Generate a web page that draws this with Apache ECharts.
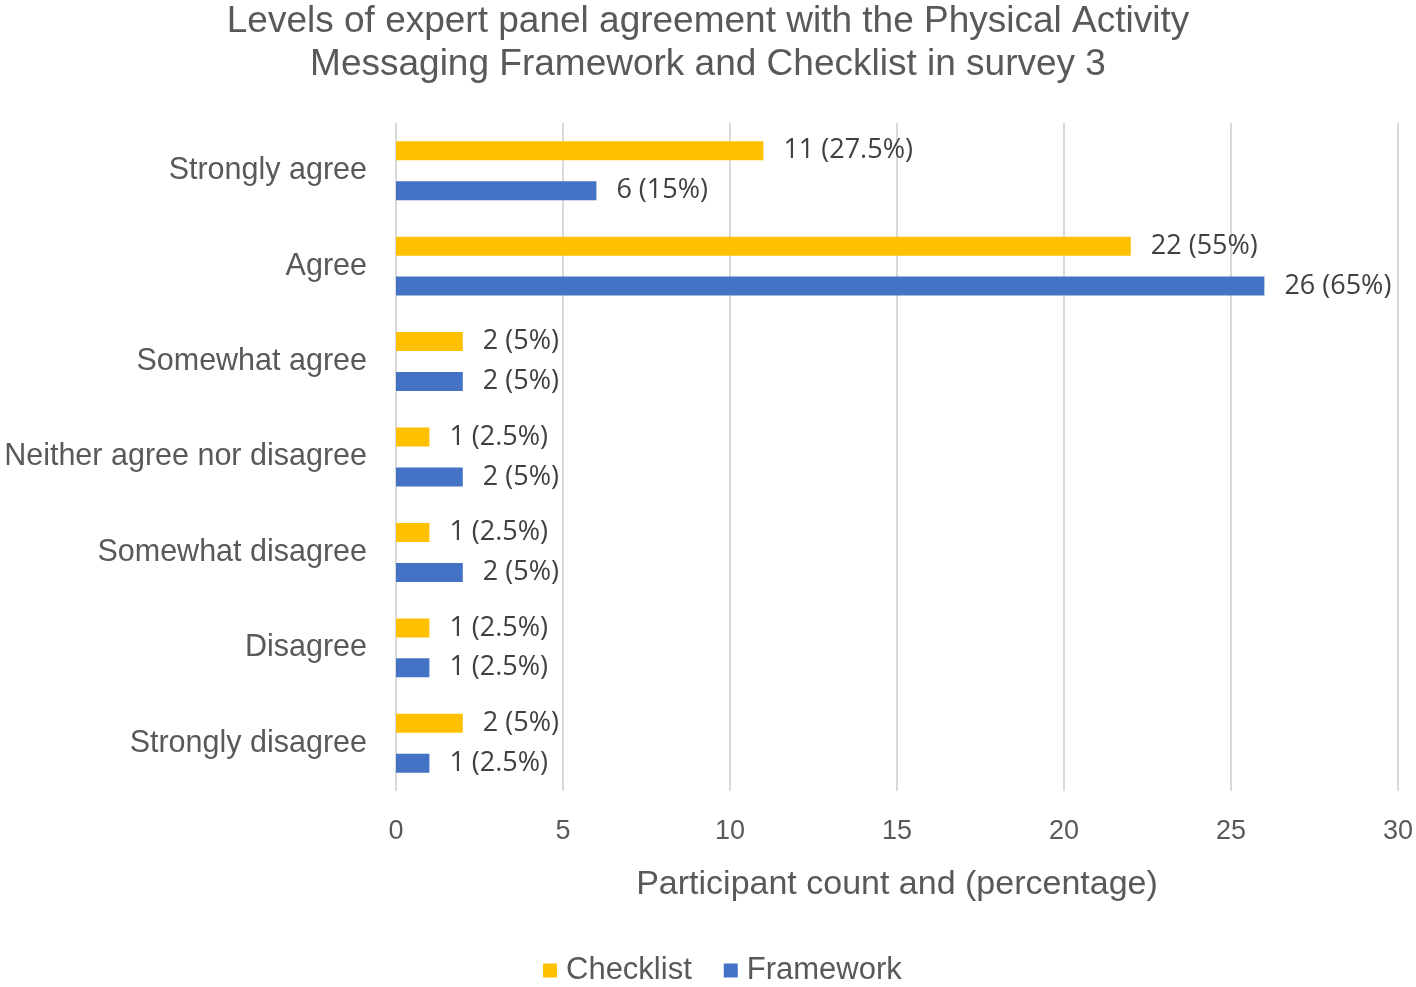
<!DOCTYPE html>
<html><head><meta charset="utf-8">
<script src="https://cdn.jsdelivr.net/npm/echarts@6/dist/echarts.min.js"></script>
<style>html,body{margin:0;padding:0;background:#fff}#c{width:1416px;height:987px}</style>
</head><body><div id="c"></div>
<script>
const categories = ["Strongly agree","Agree","Somewhat agree","Neither agree nor disagree","Somewhat disagree","Disagree","Strongly disagree"];
const checklist = [11,22,2,1,1,1,2];
const checklistPct = ["27.5","55","5","2.5","2.5","2.5","5"];
const framework = [6,26,2,2,2,1,1];
const frameworkPct = ["15","65","5","5","5","2.5","2.5"];
const xTicks = [0,5,10,15,20,25,30];

const chart = echarts.init(document.getElementById('c'), null, {renderer:'canvas'});
const labelStyle = (pcts) => ({
  show:true, position:'right', distance:20,
  fontFamily:'Open Sans', fontSize:27, color:'#404040',
  formatter: p => p.value + ' (' + pcts[p.dataIndex] + '%)'
});
chart.setOption({
  animation:false,
  title:{
    text:'Levels of expert panel agreement with the Physical Activity\nMessaging Framework and Checklist in survey 3',
    left:'center', top:-5,
    textStyle:{fontFamily:'Liberation Sans', fontSize:37, fontWeight:'normal', color:'#595959', lineHeight:43}
  },
  legend:{
    bottom:-4, left:538, itemWidth:14, itemHeight:14, itemGap:32,
    icon:'rect',
    textStyle:{fontFamily:'Liberation Sans', fontSize:31, color:'#595959', padding:[0,0,0,4]},
    data:['Checklist','Framework']
  },
  grid:{left:396, right:18, top:123, bottom:196},
  xAxis:{
    type:'value', min:0, max:30, interval:5,
    axisLine:{show:false}, axisTick:{show:false},
    splitLine:{lineStyle:{color:'#d9d9d9', width:2}},
    axisLabel:{fontFamily:'Liberation Sans', fontSize:27, color:'#595959', margin:27,
      formatter: v => xTicks.includes(v) ? String(v) : ''},
    name:'Participant count and (percentage)', nameLocation:'middle', nameGap:77,
    nameTextStyle:{fontFamily:'Liberation Sans', fontSize:34, color:'#595959'}
  },
  yAxis:{
    type:'category', data:categories, inverse:true,
    axisLine:{show:false}, axisTick:{show:false},
    axisLabel:{fontFamily:'Liberation Sans', fontSize:30.5, color:'#595959', margin:29, padding:[6,0,0,0]}
  },
  series:[
    {name:'Checklist', type:'bar', data:checklist, barWidth:19, barGap:'110%',
      itemStyle:{color:'#FFC000'}, label:labelStyle(checklistPct)},
    {name:'Framework', type:'bar', data:framework, barWidth:19, barGap:'110%',
      itemStyle:{color:'#4472C4'}, label:labelStyle(frameworkPct)}
  ]
});
</script></body></html>
